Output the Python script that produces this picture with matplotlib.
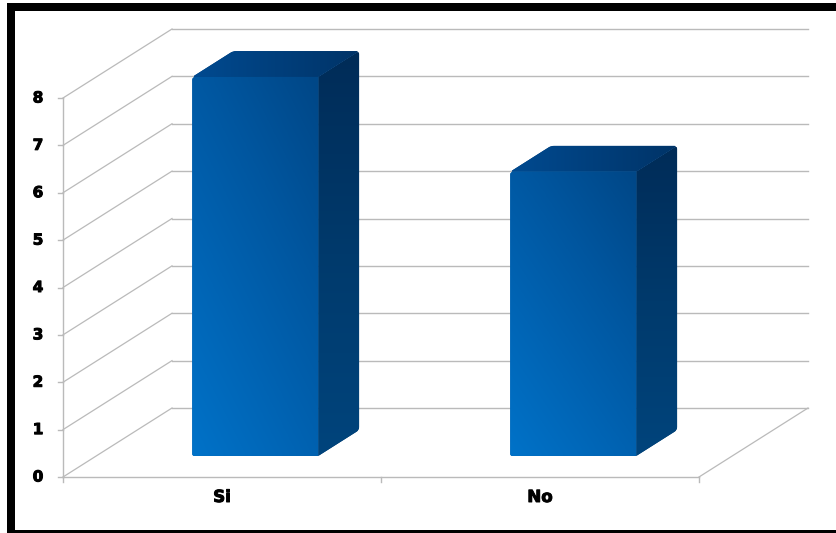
import numpy as np
import matplotlib
matplotlib.use("Agg")
import matplotlib.pyplot as plt
import matplotlib.patheffects as pe
from matplotlib.colors import LinearSegmentedColormap
from matplotlib.patches import PathPatch, Rectangle
from matplotlib.path import Path

# Data
categorias = ["Si", "No"]
valores = [8, 6]
y_ticks = [0, 1, 2, 3, 4, 5, 6, 7, 8]

W, H = 837, 533
GRIS = "#bababa"

# Depth offsets of the 3D look, in data units
X0, X1 = 63, 699      # front floor line, pixels
Y0, Y8 = 477, 98      # value 0 and 8 on the front edge, pixels
px_x = (X1 - X0) / len(categorias)
px_y = (Y0 - Y8) / 8
fondo_x = 109 / px_x
fondo_y = 69 / px_y
ancho = 126 / px_x
d0, d1 = 0.305, 0.68   # bar depth, fraction of floor depth

fig = plt.figure(figsize=(W / 100, H / 100), dpi=100, facecolor="white")
ax = fig.add_axes([0, 0, 1, 1])
ax.axis("off")
grueso = [pe.withStroke(linewidth=0.7, foreground="black")]

# Walls and floor
n = len(categorias)
for v in y_ticks:
    ax.plot([0, fondo_x], [v, v + fondo_y], color=GRIS, lw=0.9, zorder=1)
    ax.plot([fondo_x, n + fondo_x], [v + fondo_y, v + fondo_y], color=GRIS, lw=1, zorder=1)
    ax.plot([-5 / px_x, 0], [v, v], color=GRIS, lw=1, zorder=1)
    ax.text(-25 / px_x, v, str(v), ha="center", va="center", fontsize=11,
            fontweight="bold", color="black", path_effects=grueso)
ax.plot([0, 0], [0, y_ticks[-1]], color=GRIS, lw=1, zorder=1)
ax.plot([0, n], [0, 0], color=GRIS, lw=1, zorder=1)
ax.plot([n, n + fondo_x], [0, fondo_y], color=GRIS, lw=0.9, zorder=1)
for i in range(n + 1):
    ax.plot([i, i], [0, -5 / px_y], color=GRIS, lw=1, zorder=1)

cmap_frente = LinearSegmentedColormap.from_list("frente", ["#0072c8", "#0064b4", "#00569f", "#004787"])
cmap_lado = LinearSegmentedColormap.from_list("lado", ["#00447c", "#003a6c", "#002c58"])
cmap_techo = LinearSegmentedColormap.from_list("techo", ["#004a90", "#003468"])


def redondeado(puntos, radios):
    # Closed path whose corners are cut by small curves, radii given in pixels
    esc = np.array([px_x, px_y])
    pix = np.array(puntos) * esc
    verts, codes = [], []
    m = len(pix)
    for k in range(m):
        p = pix[k]
        a = pix[k - 1] - p
        b = pix[(k + 1) % m] - p
        ini = p + a / np.hypot(*a) * radios[k]
        fin = p + b / np.hypot(*b) * radios[k]
        verts += [ini, p, fin]
        codes += [Path.MOVETO if k == 0 else Path.LINETO, Path.CURVE3, Path.CURVE3]
    verts.append(verts[0])
    codes.append(Path.CLOSEPOLY)
    return Path(np.array(verts) / esc, codes)


def cara(puntos, radios, cmap, grad, zorder):
    # Gradient filled face, clipped to the rounded outline
    puntos = np.array(puntos)
    ext = [puntos[:, 0].min(), puntos[:, 0].max(), puntos[:, 1].min(), puntos[:, 1].max()]
    camino = redondeado(puntos, radios)
    ax.add_patch(PathPatch(camino, facecolor=cmap(0.5), edgecolor="none", zorder=zorder))
    im = ax.imshow(grad, extent=ext, origin="lower", cmap=cmap, vmin=0, vmax=1,
                   aspect="auto", zorder=zorder, interpolation="bilinear")
    im.set_clip_path(PathPatch(camino, transform=ax.transData))


gx, gy = np.meshgrid(np.linspace(0, 1, 60), np.linspace(0, 1, 60))
for i, v in enumerate(valores):
    xi = i + 0.5 - ancho / 2 + d0 * fondo_x
    xd = xi + ancho
    y0 = d0 * fondo_y
    dx = (d1 - d0) * fondo_x
    dy = (d1 - d0) * fondo_y
    y1 = y0 + v
    cara([(xd, y0), (xd + dx, y0 + dy), (xd + dx, y1 + dy), (xd, y1)], [0, 3, 3, 0], cmap_lado, gy, 3)
    cara([(xi, y1), (xd, y1), (xd + dx, y1 + dy), (xi + dx, y1 + dy)], [3, 0, 3, 3], cmap_techo, gx, 3)
    cara([(xi, y0), (xd, y0), (xd, y1), (xi, y1)], [2, 0, 0, 3], cmap_frente, 0.6 * gy + 0.4 * gx, 4)
    ax.text(i + 0.5, -20 / px_y, categorias[i], ha="center", va="center", fontsize=12,
            fontweight="bold", color="black", path_effects=grueso)

ax.set_xlim(-X0 / px_x, (W - X0) / px_x)
ax.set_ylim(-(H - Y0) / px_y, Y0 / px_y)

# Black frame (open on the right side)
for (x, y, w, h) in [(7, 3, W - 7, 8), (7, 3, 8, H - 3), (7, 530, W - 7, 3)]:
    fig.add_artist(Rectangle((x / W, 1 - (y + h) / H), w / W, h / H, transform=fig.transFigure,
                             facecolor="black", edgecolor="none", zorder=10))

fig.savefig("out.png", dpi=100)
